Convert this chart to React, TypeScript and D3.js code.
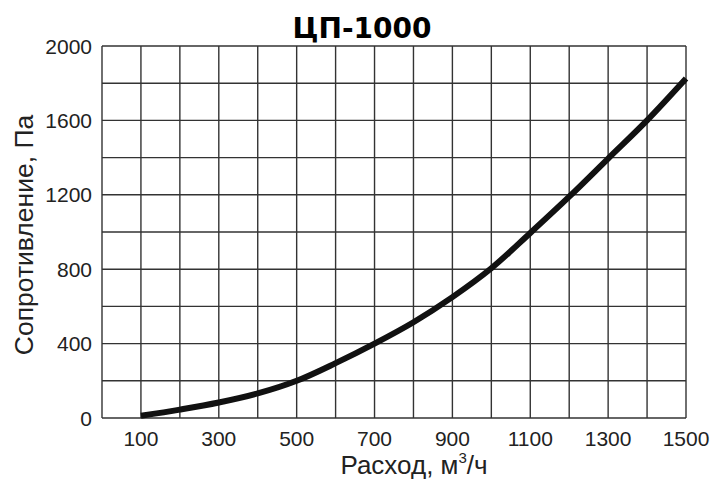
import React from "react";
import * as d3 from "d3";

const flow = [100, 200, 300, 400, 500, 600, 700, 800, 900, 1000, 1100, 1200, 1300, 1400, 1500];
const resistance = [12, 45, 83, 132, 200, 295, 400, 515, 650, 805, 995, 1190, 1395, 1600, 1825];
const xTickLabels = [100, 300, 500, 700, 900, 1100, 1300, 1500];
const yTickLabels = [0, 400, 800, 1200, 1600, 2000];
const xGrid = d3.range(0, 1501, 100);
const yGrid = d3.range(0, 2001, 200);
const title = "ЦП-1000";
const xTitle = "Расход, м";
const yTitle = "Сопротивление, Па";

export default function App() {
  const W = 714, H = 480;
  const left = 102, right = 686, top = 46, bottom = 418;
  const x = d3.scaleLinear().domain([0, 1500]).range([left, right]);
  const y = d3.scaleLinear().domain([0, 2000]).range([bottom, top]);
  const line = d3
    .line<number>()
    .x((_, i) => x(flow[i]))
    .y((d) => y(d))
    .curve(d3.curveCatmullRom.alpha(0.5));
  const sans = "'Liberation Sans', Arial, sans-serif";
  return (
    <svg width={W} height={H} style={{ position: "absolute", left: 0, top: 0, background: "#fff" }}>
      <rect x={0} y={0} width={W} height={H} fill="#fff" />
      <text x={362} y={38} textAnchor="middle" fontFamily="'DejaVu Sans', Verdana, sans-serif" fontWeight="bold" fontSize={28} fill="#000">
        {title}
      </text>
      {xGrid.map((v) => (
        <line key={"x" + v} x1={x(v)} x2={x(v)} y1={top} y2={bottom} stroke="#333" strokeWidth={1.4} />
      ))}
      {yGrid.map((v) => (
        <line key={"y" + v} x1={left} x2={right} y1={y(v)} y2={y(v)} stroke="#333" strokeWidth={1.4} />
      ))}
      <path d={line(resistance) || ""} fill="none" stroke="#111" strokeWidth={6} strokeLinecap="butt" />
      {yTickLabels.map((v) => (
        <text key={"yl" + v} x={92} y={y(v)} dy="0.36em" textAnchor="end" fontFamily={sans} fontSize={21} fill="#222">
          {v}
        </text>
      ))}
      {xTickLabels.map((v) => (
        <text key={"xl" + v} x={x(v)} y={446} textAnchor="middle" fontFamily={sans} fontSize={21} fill="#222">
          {v}
        </text>
      ))}
      <text x={414} y={474} textAnchor="middle" fontFamily={sans} fontSize={26} fill="#222">
        {xTitle}
        <tspan dy={-11} fontSize={15}>3</tspan>
        <tspan dy={11}>/ч</tspan>
      </text>
      <text transform={`translate(33,235) rotate(-90)`} textAnchor="middle" fontFamily={sans} fontSize={26.5} fill="#222">
        {yTitle}
      </text>
    </svg>
  );
}
